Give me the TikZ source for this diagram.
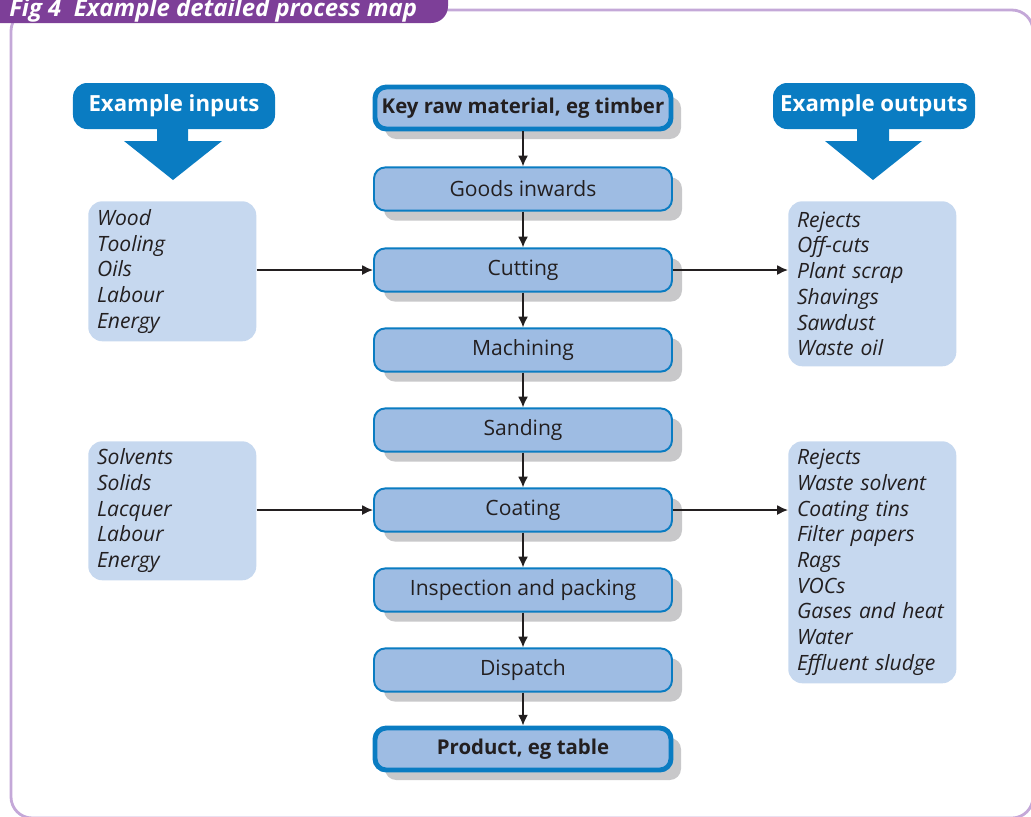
\documentclass[tikz,border=0pt]{standalone}
\usepackage{fontspec}
\setmainfont{Open Sans}
\usetikzlibrary{shadows,arrows.meta}

\definecolor{procfill}{HTML}{9EBCE3}
\definecolor{procline}{HTML}{0A7CC2}
\definecolor{listfill}{HTML}{C6D8EF}
\definecolor{shadowgrey}{HTML}{C8C8CA}
\definecolor{figpurple}{HTML}{7D3F98}
\definecolor{framepurple}{HTML}{C4A8D8}
\definecolor{inkblack}{HTML}{231F20}

\begin{document}
\begin{tikzpicture}[x=0.25mm,y=-0.25mm,
  procbox/.style={draw=procline, line width=1.4pt, fill=procfill, text=inkblack,
    font=\fontsize{15}{18}\selectfont, rounded corners=8pt,
    minimum width=74.5mm, minimum height=10.8mm, inner sep=0pt,
    general shadow={fill=shadowgrey, shadow xshift=2.5mm, shadow yshift=-2.5mm}},
  endbox/.style={procbox, line width=3.5pt, minimum width=74mm, minimum height=10.5mm,
    font=\fontsize{14.5}{17}\selectfont\bfseries},
  listbox/.style={fill=listfill, text=inkblack, rounded corners=10pt,
    font=\fontsize{15}{18.3}\selectfont\itshape, align=left, anchor=north west,
    inner xsep=2.2mm, text width=37.6mm},
  headbox/.style={fill=procline, text=white, rounded corners=10pt,
    font=\fontsize{15.8}{18}\selectfont\bfseries, minimum width=50.5mm, minimum height=11.5mm},
  flow/.style={inkblack, line width=1.2pt, -{Latex[length=2.7mm,width=2.5mm]}}]
  \useasboundingbox (0,0) rectangle (1031,816);

  % frame and title tab
  \begin{scope}
    \clip (0,0) rectangle (1031,816);
    \draw[framepurple, line width=2pt, rounded corners=15] (11,10) rectangle (1033,818);
    \fill[figpurple, rounded corners=12] (-20,-20) rectangle (448,23);
  \end{scope}
  \node[anchor=base west, inner sep=0pt, text=white,
    font=\fontsize{17}{20}\selectfont\bfseries\itshape] (title) at (9,16)
    {Fig 4\ \ Example detailed process map};

  % main process
  \node[endbox] (raw) at (523,108) {Key raw material, eg timber};
  \node[procbox] (goods) at (523,189) {Goods inwards};
  \node[procbox] (cut) at (523,270) {Cutting};
  \node[procbox] (mach) at (523,350) {Machining};
  \node[procbox] (sand) at (523,430) {Sanding};
  \node[procbox] (coat) at (523,510) {Coating};
  \node[procbox] (insp) at (523,590) {Inspection and packing};
  \node[procbox] (disp) at (523,670) {Dispatch};
  \node[endbox] (prod) at (523,749) {Product, eg table};

  \draw[flow] (raw) -- (goods);
  \draw[flow] (goods) -- (cut);
  \draw[flow] (cut) -- (mach);
  \draw[flow] (mach) -- (sand);
  \draw[flow] (sand) -- (coat);
  \draw[flow] (coat) -- (insp);
  \draw[flow] (insp) -- (disp);
  \draw[flow] (disp) -- (prod);

  % headers
  \node[headbox] (inhead) at (174,106) {Example inputs};
  \fill[procline] (157,128) -- (188,128) -- (188,141) -- (222,141) -- (173,180)
    -- (124,141) -- (157,141) -- cycle;
  \node[headbox] (outhead) at (874,106) {Example outputs};
  \fill[procline] (857,128) -- (889,128) -- (889,141) -- (922,141) -- (873,180)
    -- (825,141) -- (857,141) -- cycle;

  % inputs and outputs
  \node[listbox, minimum height=35mm] (in1) at (88,201)
    {Wood\\Tooling\\Oils\\Labour\\Energy};
  \node[listbox, minimum height=34.75mm] (in2) at (88,441)
    {Solvents\\Solids\\Lacquer\\Labour\\Energy};
  \node[listbox, minimum height=41.25mm] (out1) at (788,201)
    {Rejects\\Off-cuts\\Plant scrap\\Shavings\\Sawdust\\Waste oil};
  \node[listbox, minimum height=60.5mm] (out2) at (788,441)
    {Rejects\\Waste solvent\\Coating tins\\Filter papers\\Rags\\VOCs\\Gases and heat\\Water\\Effluent sludge};

  \draw[flow] (in1.east |- cut.west) -- (cut.west);
  \draw[flow] (cut.east) -- (cut.east -| out1.west);
  \draw[flow] (in2.east |- coat.west) -- (coat.west);
  \draw[flow] (coat.east) -- (coat.east -| out2.west);
\end{tikzpicture}
\end{document}
